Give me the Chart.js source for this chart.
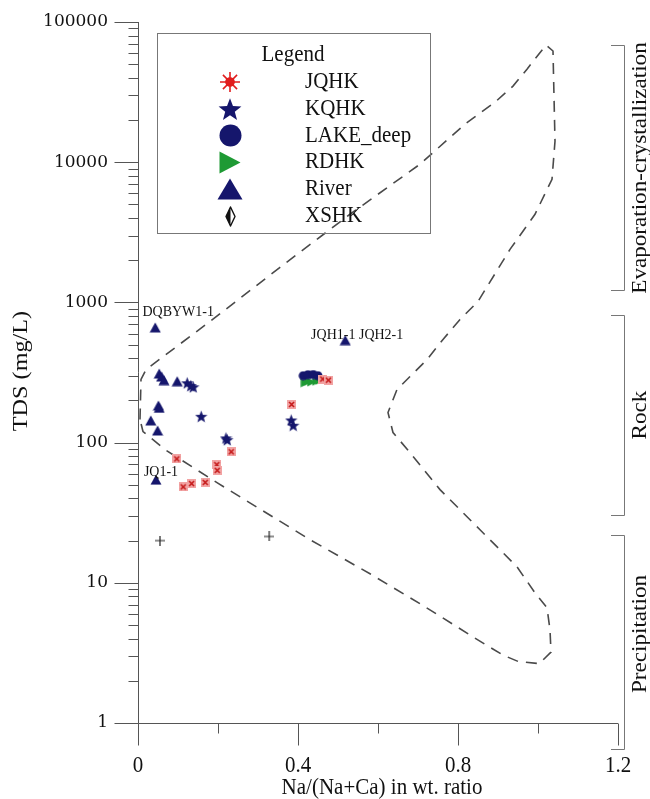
<!DOCTYPE html>
<html>
<head>
<meta charset="utf-8">
<script src="https://cdn.jsdelivr.net/npm/chart.js@4/dist/chart.umd.min.js"></script>
<style>
  html, body { margin: 0; padding: 0; background: #fff; }
  #wrap { width: 650px; height: 799px; position: relative; }
</style>
</head>
<body>
<div id="wrap"><canvas id="chart"></canvas></div>
<script>
// --- data (x = Na/(Na+Ca), y = TDS mg/L) ---
const seriesNames = ['JQHK', 'KQHK', 'LAKE_deep', 'RDHK', 'River', 'XSHK'];

const jqhkRatio = [0.097, 0.113, 0.134, 0.168, 0.197, 0.198, 0.233, 0.384, 0.462, 0.476];
const jqhkTds   = [76.5, 48.3, 51, 52, 69.6, 63.4, 86, 187, 284, 279];

const kqhkRatio = [0.123, 0.132, 0.138, 0.158, 0.220, 0.223, 0.383, 0.388];
const kqhkTds   = [267, 255, 250, 154, 108, 105, 145, 133];

const lakeRatio = [0.413, 0.425, 0.438, 0.450];
const lakeTds   = [300, 305, 306, 300];

const rdhkRatio = [0.418, 0.426, 0.434, 0.447, 0.455];
const rdhkTds   = [267, 274, 270, 274, 279];

const riverRatio = [0.043, 0.053, 0.059, 0.065, 0.098, 0.051, 0.053, 0.032, 0.049, 0.045, 0.518];
const riverTds   = [663, 311, 296, 279, 274, 184, 177, 144, 122, 54.4, 538];

const xshkRatio = [0.055, 0.328];
const xshkTds   = [20, 21.4];

// Gibbs boomerang envelope
const envelopeRatio = [0.005, 0.0075, 0.02, 0.18, 0.355, 0.53, 0.705, 0.8175, 0.8925, 0.9375, 0.9725, 1.02,
  1.0375, 1.0425, 1.035, 0.9925, 0.93, 0.85, 0.805, 0.7625, 0.7225, 0.68, 0.6475, 0.625, 0.6375, 0.68,
  0.755, 0.855, 0.9475, 0.9925, 1.0225, 1.03, 1.0325, 1.003, 0.95, 0.9125, 0.8475, 0.705, 0.58, 0.43,
  0.1975, 0.0675, 0.0125, 0.005];
const envelopeTds = [146, 282, 332, 731, 1778, 4253, 9680, 18700, 26800, 34900, 46100, 68500,
  62100, 14100, 7560, 4250, 2390, 1016, 756, 544, 391, 296, 239, 164, 118, 84.8,
  46.2, 23.9, 13.0, 8.48, 6.63, 4.62, 3.2, 2.65, 2.75, 3.05, 3.95, 7.1, 11.6, 20.3,
  51.8, 89.1, 120, 146];

const sampleLabels = ['DQBYW1-1', 'JQ1-1', 'JQH1-1 JQH2-1'];
const sampleRatio  = [0.043, 0.045, 0.518];
const sampleTds    = [663, 54.4, 538];

const xTicks = [0, 0.4, 0.8, 1.2];
const xTickLabels = ['0', '0.4', '0.8', '1.2'];
const yTicks = [1, 10, 100, 1000, 10000, 100000];
const yTickLabels = ['1', '10', '100', '1000', '10000', '100000'];
const zoneNames = ['Evaporation-crystallization', 'Rock', 'Precipitation'];

// --- styling ---
const NAVY = '#15166c';
const RED = '#e11d1d';
const GREEN = '#1e9a34';
const AXIS = '#555';
const SERIF = '"Liberation Serif", "Times New Roman", serif';

function makeSymbol(kind, w, h) {
  h = h || w;
  const c = document.createElement('canvas');
  c.width = w; c.height = h;
  const g = c.getContext('2d');
  const cx = w / 2, cy = h / 2;
  g.lineJoin = 'round';
  g.beginPath();
  if (kind === 'box') {
    g.fillStyle = '#f2a3a3'; g.fillRect(0, 0, w, h);
    g.strokeStyle = '#c41616'; g.lineWidth = 1.6;
    g.moveTo(2, 2); g.lineTo(w - 2, h - 2); g.moveTo(w - 2, 2); g.lineTo(2, h - 2); g.stroke();
  } else if (kind === 'burst') {
    g.strokeStyle = RED; g.lineWidth = 1.6;
    for (let i = 0; i < 8; i++) {
      const a = i * Math.PI / 4;
      g.moveTo(cx, cy); g.lineTo(cx + Math.cos(a) * (w / 2 - 1), cy + Math.sin(a) * (h / 2 - 1));
    }
    g.stroke();
    g.fillStyle = RED; g.beginPath(); g.arc(cx, cy, w * 0.22, 0, Math.PI * 2); g.fill();
  } else if (kind === 'star') {
    const R = w / 2, r = R * 0.42;
    for (let i = 0; i < 10; i++) {
      const a = -Math.PI / 2 + i * Math.PI / 5, rr = i % 2 ? r : R;
      g.lineTo(cx + Math.cos(a) * rr, cy + Math.sin(a) * rr + R * 0.1);
    }
    g.closePath(); g.fillStyle = NAVY; g.fill();
  } else if (kind === 'circle') {
    g.arc(cx, cy, w / 2 - 0.5, 0, Math.PI * 2); g.fillStyle = NAVY; g.fill();
  } else if (kind === 'triUp') {
    g.moveTo(cx, 0.5); g.lineTo(w - 0.5, h - 0.5); g.lineTo(0.5, h - 0.5); g.closePath();
    g.fillStyle = NAVY; g.fill();
  } else if (kind === 'triRight') {
    g.moveTo(0.5, 0.5); g.lineTo(w - 0.5, cy); g.lineTo(0.5, h - 0.5); g.closePath();
    g.fillStyle = GREEN; g.fill();
  } else if (kind === 'plus') {
    g.strokeStyle = '#222'; g.lineWidth = 1.2;
    g.moveTo(cx, 0); g.lineTo(cx, h); g.moveTo(0, cy); g.lineTo(w, cy); g.stroke();
  } else if (kind === 'diamond') {
    g.moveTo(cx, 1); g.lineTo(cx, h - 1); g.lineTo(1, cy); g.closePath();
    g.fillStyle = '#111'; g.fill();
    g.beginPath();
    g.moveTo(cx, 1); g.lineTo(w - 1, cy); g.lineTo(cx, h - 1); g.lineTo(1, cy); g.closePath();
    g.strokeStyle = '#111'; g.lineWidth = 1.4; g.stroke();
  }
  return c;
}

const pointSymbols = [
  makeSymbol('box', 9), makeSymbol('star', 13), makeSymbol('circle', 10),
  makeSymbol('triRight', 10), makeSymbol('triUp', 12, 11), makeSymbol('plus', 10)
];
const legendSymbols = [
  makeSymbol('burst', 22), makeSymbol('star', 24), makeSymbol('circle', 23),
  makeSymbol('triRight', 22, 23), makeSymbol('triUp', 26, 22), makeSymbol('diamond', 11, 21)
];

const pts = (xs, ys) => xs.map((v, i) => ({ x: v, y: ys[i] }));
const seriesData = [
  pts(jqhkRatio, jqhkTds), pts(kqhkRatio, kqhkTds), pts(lakeRatio, lakeTds),
  pts(rdhkRatio, rdhkTds), pts(riverRatio, riverTds), pts(xshkRatio, xshkTds)
];

function text(ctx, str, x, y, font, opt) {
  opt = opt || {};
  ctx.save();
  ctx.translate(x, y);
  if (opt.rot) ctx.rotate(opt.rot);
  ctx.scale(opt.sx || 1, opt.sy || 1);
  ctx.font = font;
  ctx.fillStyle = opt.color || '#111';
  ctx.textAlign = opt.align || 'center';
  ctx.textBaseline = 'middle';
  ctx.fillText(str, 0, 0);
  ctx.restore();
}

const decor = {
  id: 'decor',
  beforeDatasetsDraw(chart) {
    const { ctx, chartArea: a, scales: { x, y } } = chart;
    const L = Math.round(a.left) + 0.5, B = Math.round(a.bottom) + 0.5;
    ctx.save();
    ctx.strokeStyle = AXIS; ctx.lineWidth = 1;
    ctx.beginPath();
    ctx.moveTo(L, a.top); ctx.lineTo(L, B);
    ctx.moveTo(L, B); ctx.lineTo(a.right, B);
    yTicks.forEach((v, i) => {
      const p = Math.round(y.getPixelForValue(v)) + 0.5;
      ctx.moveTo(L - 24, p); ctx.lineTo(L, p);
      if (i < yTicks.length - 1) {
        for (let k = 2; k < 10; k++) {
          const q = Math.round(y.getPixelForValue(v * k)) + 0.5;
          ctx.moveTo(L - 10, q); ctx.lineTo(L, q);
        }
      }
    });
    xTicks.forEach((v, i) => {
      const p = Math.round(x.getPixelForValue(v)) + 0.5;
      ctx.moveTo(p, B); ctx.lineTo(p, B + 22);
      if (i < xTicks.length - 1) {
        const q = Math.round(x.getPixelForValue((v + xTicks[i + 1]) / 2)) + 0.5;
        ctx.moveTo(q, B); ctx.lineTo(q, B + 10);
      }
    });
    ctx.stroke();
    ctx.restore();
  },
  afterDraw(chart) {
    const { ctx, chartArea: a, scales: { x, y } } = chart;
    const f21 = '21px ' + SERIF;
    ctx.save();
    // tick labels
    yTicks.forEach((v, i) => {
      text(ctx, yTickLabels[i], 108, y.getPixelForValue(v), '17px "DejaVu Serif", serif', { align: 'right' });
    });
    xTicks.forEach((v, i) => {
      text(ctx, xTickLabels[i], x.getPixelForValue(v), 766, f21, { sy: 1.1 });
    });
    // axis titles
    text(ctx, 'Na/(Na+Ca) in wt. ratio', 382, 788, f21, { sy: 1.1 });
    text(ctx, 'TDS (mg/L)', 21, 371, '22px ' + SERIF, { rot: -Math.PI / 2, sx: 1.1 });

    // zone brackets on the right
    const zones = [[45, 290], [315, 515], [535, 749]];
    ctx.strokeStyle = '#777'; ctx.lineWidth = 1;
    ctx.beginPath();
    zones.forEach(([t, b]) => {
      ctx.moveTo(611, t + 0.5); ctx.lineTo(624.5, t + 0.5); ctx.lineTo(624.5, b + 0.5); ctx.lineTo(611, b + 0.5);
    });
    ctx.stroke();
    const zoneCenters = [168, 415, 634];
    zoneNames.forEach((n, i) => {
      text(ctx, n, 640, zoneCenters[i], f21, { rot: -Math.PI / 2, sx: 1.1 });
    });

    // sample labels
    const offsets = [[23, -15], [5, -8], [12, -5]];
    sampleLabels.forEach((s, i) => {
      const px = x.getPixelForValue(sampleRatio[i]) + offsets[i][0];
      const py = y.getPixelForValue(sampleTds[i]) + offsets[i][1];
      text(ctx, s, px, py, '14px ' + SERIF, { sy: 1.1 });
    });

    // legend box
    ctx.strokeStyle = '#777';
    ctx.strokeRect(157.5, 33.5, 273, 200);
    text(ctx, 'Legend', 293, 55, f21, { sy: 1.1 });
    seriesNames.forEach((n, i) => {
      const cy = 82 + i * 26.8;
      const s = legendSymbols[i];
      ctx.drawImage(s, Math.round(230 - s.width / 2), Math.round(cy - s.height / 2));
      text(ctx, n, 305, cy, f21, { align: 'left', sy: 1.1 });
    });
    ctx.restore();
  }
};

const datasets = seriesData.map((d, i) => ({
  label: seriesNames[i],
  data: d,
  pointStyle: pointSymbols[i],
  pointRadius: 5,
  showLine: false,
  order: 1
}));
datasets.push({
  label: 'envelope',
  data: pts(envelopeRatio, envelopeTds),
  showLine: true,
  borderColor: '#4a4a4a',
  borderWidth: 1.6,
  borderDash: [11, 8],
  pointRadius: 0,
  fill: false,
  tension: 0,
  order: 2
});

new Chart(document.getElementById('chart'), {
  type: 'scatter',
  data: { datasets },
  options: {
    responsive: true,
    maintainAspectRatio: false,
    animation: false,
    layout: { padding: { left: 138, top: 22, right: 32, bottom: 76 } },
    scales: {
      x: { type: 'linear', min: 0, max: 1.2, display: false },
      y: { type: 'logarithmic', min: 1, max: 100000, display: false }
    },
    plugins: { legend: { display: false }, tooltip: { enabled: false } }
  },
  plugins: [decor]
});
</script>
</body>
</html>
